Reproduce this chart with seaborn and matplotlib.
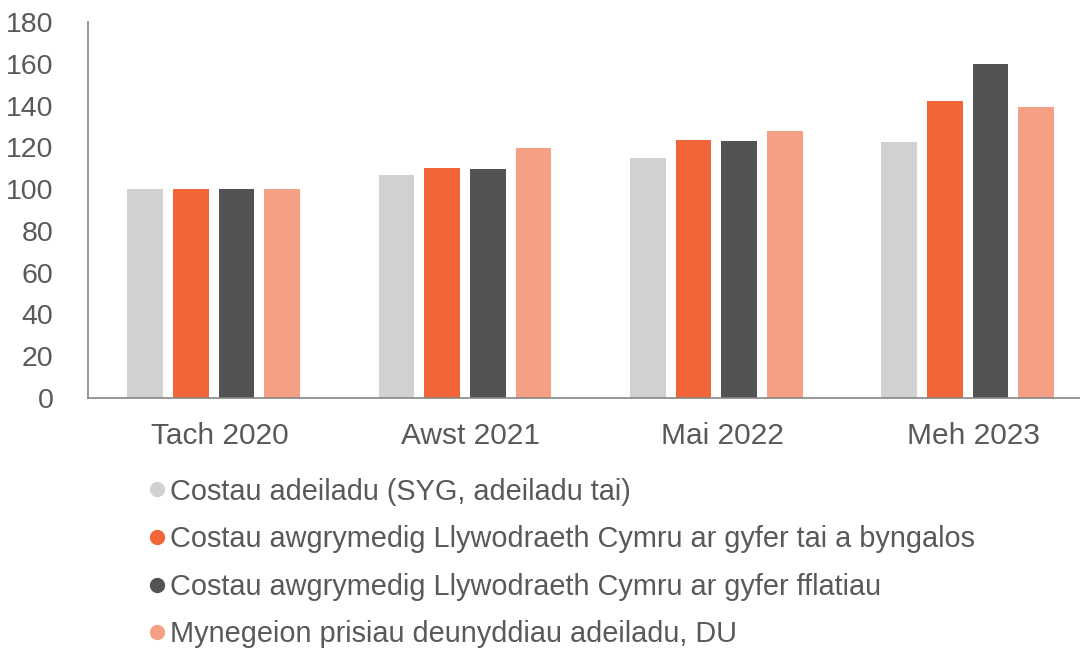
import matplotlib
matplotlib.use('Agg')
import matplotlib.pyplot as plt
from matplotlib.lines import Line2D
from matplotlib.transforms import ScaledTranslation
import pandas as pd
import seaborn as sns

# Data (index, Tach 2020 = 100)
periods = ['Tach 2020', 'Awst 2021', 'Mai 2022', 'Meh 2023']
series_names = [
    'Costau adeiladu (SYG, adeiladu tai)',
    'Costau awgrymedig Llywodraeth Cymru ar gyfer tai a byngalos',
    'Costau awgrymedig Llywodraeth Cymru ar gyfer fflatiau',
    'Mynegeion prisiau deunyddiau adeiladu, DU',
]
syg_costs = [100, 106.7, 114.8, 122.5]
wg_houses = [100, 110.2, 123.5, 142.2]
wg_flats = [100, 109.6, 122.8, 159.9]
materials_index = [100, 119.6, 127.9, 139.3]
colors = ['#D0D1D0', '#F26539', '#525354', '#F5A085']
y_ticks = [0, 20, 40, 60, 80, 100, 120, 140, 160, 180]

all_values = [syg_costs, wg_houses, wg_flats, materials_index]
df = pd.DataFrame({
    'period': periods * len(series_names),
    'series': [s for s in series_names for _ in periods],
    'value': [v for vals in all_values for v in vals],
})

sns.set_theme(style="white")
plt.rcParams['font.family'] = ['Liberation Sans', 'DejaVu Sans']
text_col = '#595959'

fig = plt.figure(figsize=(10.8, 6.51), dpi=100)
ax = fig.add_axes([88 / 1080, 1 - 398 / 651, 1 - 88 / 1080, 376 / 651])

sns.barplot(data=df, x='period', y='value', hue='series', order=periods,
            hue_order=series_names, palette=colors, saturation=1,
            width=0.727, gap=0.22, linewidth=0, legend=False, ax=ax)

ax.set_ylim(0, 180)
ax.set_xlim(-0.5, 3.447)
ax.set_yticks(y_ticks)
ax.set_xlabel('')
ax.set_ylabel('')

for side in ['top', 'right']:
    ax.spines[side].set_visible(False)
for side in ['left', 'bottom']:
    ax.spines[side].set_color('#868686')
    ax.spines[side].set_linewidth(1.2)

ax.tick_params(axis='y', length=0, pad=25, labelsize=20.5, labelcolor=text_col)
ax.tick_params(axis='x', length=0, pad=17, labelsize=21.5, labelcolor=text_col)

# category labels sit a little right of the bar groups in the original
shift = ScaledTranslation(6 / 100, 0, fig.dpi_scale_trans)
for lab in ax.get_xticklabels():
    lab.set_transform(lab.get_transform() + shift)

handles = [Line2D([0], [0], marker='o', linestyle='', markersize=10,
                  markerfacecolor=c, markeredgecolor=c) for c in colors]
fig.legend(handles, series_names, loc='upper left',
           bbox_to_anchor=(132 / 1080, 1 - 466 / 651), frameon=False,
           fontsize=20.8, labelcolor=text_col, handletextpad=0.0,
           handlelength=0.9, labelspacing=0.68, borderaxespad=0)

fig.savefig('out.png', dpi=100)
plt.close(fig)
